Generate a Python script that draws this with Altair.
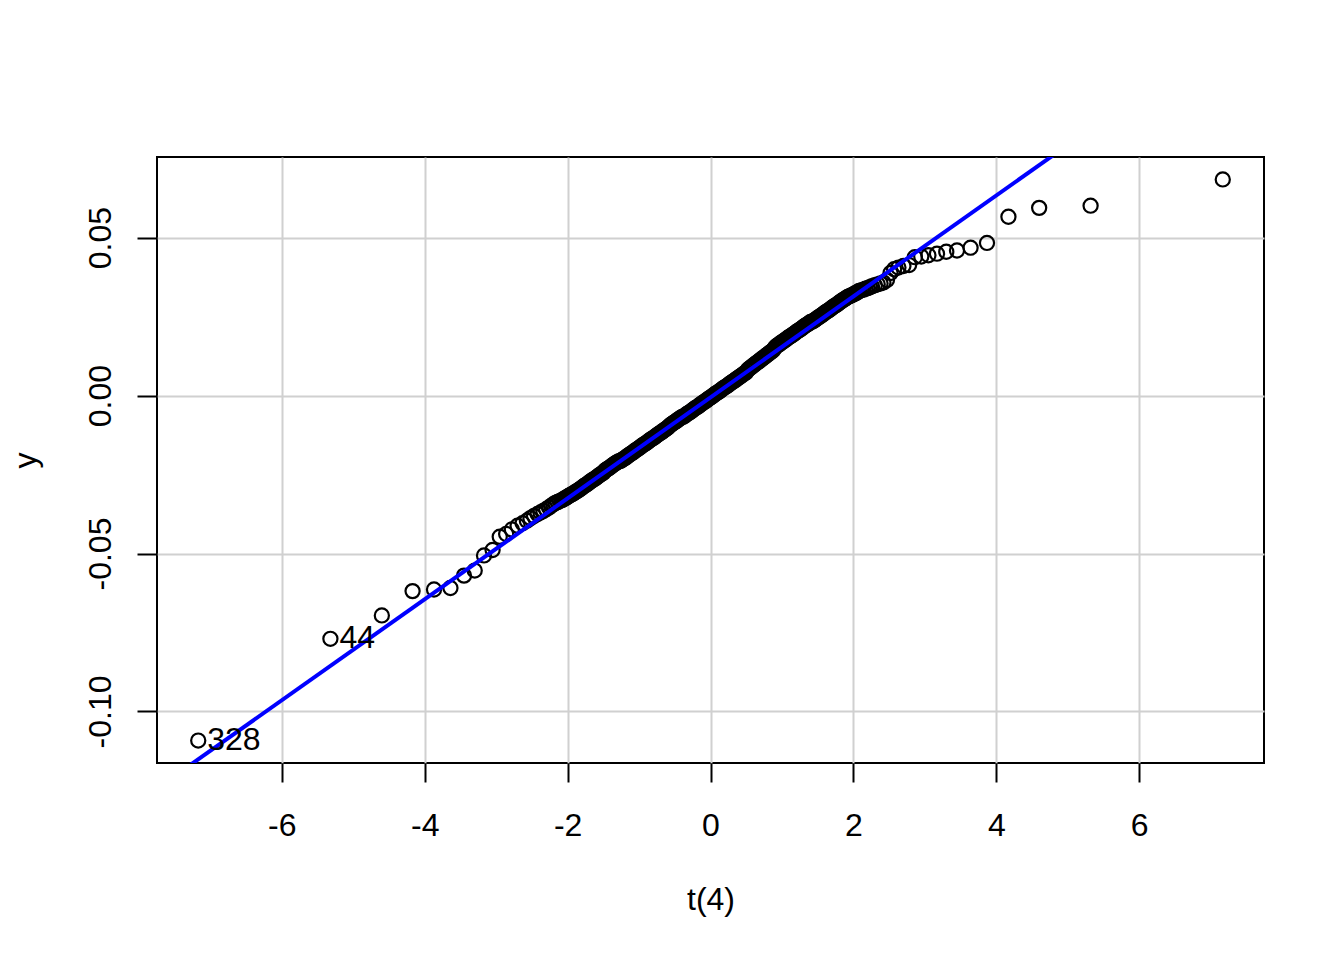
import altair as alt
import pandas as pd

# ---- data (t(4) quantile-comparison plot) ----
lower_x = [-7.17, -5.32, -4.60, -4.17, -3.87, -3.64, -3.45, -3.30, -3.17, -3.05,
           -2.95, -2.86, -2.78, -2.70, -2.63, -2.57, -2.52, -2.47, -2.42, -2.38,
           -2.34, -2.30, -2.26, -2.23, -2.20, -2.17, -2.14, -2.11, -2.08, -2.06]
lower_y = [-0.1092, -0.0770, -0.0696, -0.0619, -0.0614, -0.0609, -0.0570, -0.0554, -0.0506, -0.0489,
           -0.0447, -0.0438, -0.0424, -0.0412, -0.0404, -0.0396, -0.0388, -0.0381, -0.0375, -0.0370,
           -0.0365, -0.0360, -0.0354, -0.0349, -0.0344, -0.0340, -0.0337, -0.0334, -0.0331, -0.0328]

mid_x = [-2.04, -2.02, -2.00, -1.98, -1.96, -1.94, -1.92, -1.90, -1.88, -1.86,
         -1.84, -1.82, -1.80, -1.78, -1.76, -1.74, -1.72, -1.70, -1.68, -1.66,
         -1.64, -1.62, -1.60, -1.58, -1.56, -1.54, -1.52, -1.50, -1.48, -1.46,
         -1.44, -1.42, -1.40, -1.38, -1.36, -1.34, -1.32, -1.30, -1.28, -1.26,
         -1.24, -1.22, -1.20, -1.18, -1.16, -1.14, -1.12, -1.10, -1.08, -1.06,
         -1.04, -1.02, -1.00, -0.98, -0.96, -0.94, -0.92, -0.90, -0.88, -0.86,
         -0.84, -0.82, -0.80, -0.78, -0.76, -0.74, -0.72, -0.70, -0.68, -0.66,
         -0.64, -0.62, -0.60, -0.58, -0.56, -0.54, -0.52, -0.50, -0.48, -0.46,
         -0.44, -0.42, -0.40, -0.38, -0.36, -0.34, -0.32, -0.30, -0.28, -0.26,
         -0.24, -0.22, -0.20, -0.18, -0.16, -0.14, -0.12, -0.10, -0.08, -0.06,
         -0.04, -0.02, 0.00, 0.02, 0.04, 0.06, 0.08, 0.10, 0.12, 0.14,
         0.16, 0.18, 0.20, 0.22, 0.24, 0.26, 0.28, 0.30, 0.32, 0.34,
         0.36, 0.38, 0.40, 0.42, 0.44, 0.46, 0.48, 0.50, 0.52, 0.54,
         0.56, 0.58, 0.60, 0.62, 0.64, 0.66, 0.68, 0.70, 0.72, 0.74,
         0.76, 0.78, 0.80, 0.82, 0.84, 0.86, 0.88, 0.90, 0.92, 0.94,
         0.96, 0.98, 1.00, 1.02, 1.04, 1.06, 1.08, 1.10, 1.12, 1.14,
         1.16, 1.18, 1.20, 1.22, 1.24, 1.26, 1.28, 1.30, 1.32, 1.34,
         1.36, 1.38, 1.40, 1.42, 1.44, 1.46, 1.48, 1.50, 1.52, 1.54,
         1.56, 1.58, 1.60, 1.62, 1.64, 1.66, 1.68, 1.70, 1.72, 1.74,
         1.76, 1.78, 1.80, 1.82, 1.84, 1.86, 1.88, 1.90, 1.92, 1.94,
         1.96, 1.98, 2.00, 2.02, 2.04]
mid_y = [-0.0326, -0.0323, -0.0320, -0.0317, -0.0315, -0.0312, -0.0310, -0.0307, -0.0304, -0.0301,
         -0.0298, -0.0295, -0.0292, -0.0288, -0.0285, -0.0282, -0.0279, -0.0275, -0.0272, -0.0269,
         -0.0266, -0.0263, -0.0260, -0.0256, -0.0253, -0.0250, -0.0247, -0.0244, -0.0238, -0.0235,
         -0.0232, -0.0229, -0.0226, -0.0222, -0.0219, -0.0216, -0.0213, -0.0210, -0.0208, -0.0207,
         -0.0204, -0.0201, -0.0198, -0.0195, -0.0191, -0.0188, -0.0185, -0.0182, -0.0179, -0.0175,
         -0.0172, -0.0169, -0.0166, -0.0163, -0.0159, -0.0156, -0.0153, -0.0150, -0.0147, -0.0143,
         -0.0140, -0.0137, -0.0134, -0.0131, -0.0127, -0.0124, -0.0121, -0.0118, -0.0115, -0.0111,
         -0.0108, -0.0105, -0.0102, -0.0097, -0.0093, -0.0090, -0.0087, -0.0084, -0.0081, -0.0077,
         -0.0074, -0.0071, -0.0068, -0.0067, -0.0064, -0.0060, -0.0057, -0.0054, -0.0051, -0.0048,
         -0.0044, -0.0041, -0.0038, -0.0035, -0.0032, -0.0028, -0.0025, -0.0022, -0.0019, -0.0016,
         -0.0012, -0.0009, -0.0006, -0.0003, 0.0000, 0.0004, 0.0007, 0.0010, 0.0013, 0.0016,
         0.0020, 0.0023, 0.0026, 0.0029, 0.0032, 0.0036, 0.0039, 0.0042, 0.0045, 0.0048,
         0.0052, 0.0055, 0.0058, 0.0061, 0.0064, 0.0068, 0.0071, 0.0074, 0.0081, 0.0085,
         0.0088, 0.0092, 0.0095, 0.0099, 0.0102, 0.0106, 0.0109, 0.0113, 0.0116, 0.0120,
         0.0123, 0.0127, 0.0130, 0.0134, 0.0137, 0.0140, 0.0144, 0.0151, 0.0156, 0.0159,
         0.0162, 0.0166, 0.0169, 0.0172, 0.0175, 0.0178, 0.0182, 0.0185, 0.0188, 0.0191,
         0.0194, 0.0197, 0.0201, 0.0204, 0.0207, 0.0210, 0.0213, 0.0217, 0.0220, 0.0223,
         0.0226, 0.0229, 0.0233, 0.0234, 0.0236, 0.0239, 0.0242, 0.0246, 0.0249, 0.0252,
         0.0255, 0.0258, 0.0262, 0.0265, 0.0268, 0.0271, 0.0274, 0.0278, 0.0281, 0.0284,
         0.0287, 0.0290, 0.0294, 0.0297, 0.0300, 0.0303, 0.0306, 0.0309, 0.0312, 0.0314,
         0.0316, 0.0318, 0.0320, 0.0323, 0.0325]

upper_x = [2.06, 2.08, 2.11, 2.14, 2.17, 2.20, 2.23, 2.26, 2.30, 2.34,
           2.38, 2.42, 2.47, 2.52, 2.57, 2.63, 2.70, 2.78, 2.86, 2.95,
           3.05, 3.17, 3.30, 3.45, 3.64, 3.87, 4.17, 4.60, 5.32, 7.17]
upper_y = [0.0328, 0.0331, 0.0333, 0.0335, 0.0338, 0.0340, 0.0343, 0.0346, 0.0349, 0.0352,
           0.0355, 0.0358, 0.0366, 0.0388, 0.0400, 0.0405, 0.0410, 0.0413, 0.0438, 0.0440,
           0.0444, 0.0449, 0.0455, 0.0459, 0.0468, 0.0483, 0.0566, 0.0594, 0.0601, 0.0684]

# reference line (end points, clipped to the plot)
line_x = [-7.5, 5.0]
line_y = [-0.1204, 0.0793]

# identified points
label_x = [-7.17, -5.32]
label_y = [-0.1092, -0.0770]
label_text = ["328", "44"]

x_ticks = [-6, -4, -2, 0, 2, 4, 6]
y_ticks = [-0.10, -0.05, 0.00, 0.05]
x_domain = [-7.747, 7.747]
y_domain = [-0.1163, 0.0755]

# ---- build chart ----
points_df = pd.DataFrame({"t4": lower_x + mid_x + upper_x, "y": lower_y + mid_y + upper_y})
line_df = pd.DataFrame({"t4": line_x, "y": line_y})
label_df = pd.DataFrame({"t4": label_x, "y": label_y, "label": label_text})

FONT = "Liberation Sans"
W, H = 1107, 606

x_scale = alt.Scale(domain=x_domain, nice=False, zero=False)
y_scale = alt.Scale(domain=y_domain, nice=False, zero=False)

x_axis = alt.Axis(
    values=x_ticks, title="t(4)", grid=True, gridColor="#d0d0d0", gridWidth=2,
    domain=False, ticks=True, tickSize=19, tickWidth=2, tickColor="black",
    labelFont=FONT, labelFontSize=32, labelColor="black", labelBaseline="alphabetic",
    labelPadding=53, labelFlush=False, labelOverlap=False,
    labelExpr="datum.value < 0 ? '-' + format(-datum.value, 'd') : format(datum.value, 'd')",
    titleFont=FONT, titleFontSize=32, titleFontWeight="normal", titleColor="black",
    titleBaseline="alphabetic", titleAlign="center", titleX=W / 2, titleY=146,
)
y_axis = alt.Axis(
    values=y_ticks, title="y", grid=True, gridColor="#d0d0d0", gridWidth=2,
    domain=False, ticks=True, tickSize=20, tickWidth=2, tickColor="black",
    labelFont=FONT, labelFontSize=32, labelColor="black", labelAngle=270,
    labelAlign="center", labelBaseline="alphabetic", labelPadding=27,
    labelFlush=False, labelOverlap=False,
    labelExpr="datum.value < 0 ? '-' + format(-datum.value, '.2f') : format(datum.value, '.2f')",
    titleFont=FONT, titleFontSize=32, titleFontWeight="normal", titleColor="black",
    titleAngle=270, titleBaseline="alphabetic", titleAlign="center", titleX=-122, titleY=H / 2,
)

x_enc = alt.X("t4:Q", scale=x_scale, axis=x_axis)
y_enc = alt.Y("y:Q", scale=y_scale, axis=y_axis)

points = alt.Chart(points_df).mark_point(
    shape="circle", filled=False, size=200, strokeWidth=2.2, color="black", opacity=1
).encode(x=x_enc, y=y_enc)

line = alt.Chart(line_df).mark_line(color="#0000ff", strokeWidth=4, clip=True).encode(x=x_enc, y=y_enc)

labels = alt.Chart(label_df).mark_text(
    align="left", baseline="alphabetic", dx=9, dy=9, font=FONT, fontSize=32, color="black"
).encode(x=x_enc, y=y_enc, text="label:N")

chart = (
    alt.layer(points, line, labels)
    .properties(
        width=W, height=H,
        autosize=alt.AutoSizeParams(type="none"),
        padding={"left": 149, "top": 149, "right": 72, "bottom": 180},
    )
    .configure(background="white")
    .configure_view(stroke="black", strokeWidth=2)
)

chart.save("out.html", embed_options={"renderer": "svg", "actions": False})
